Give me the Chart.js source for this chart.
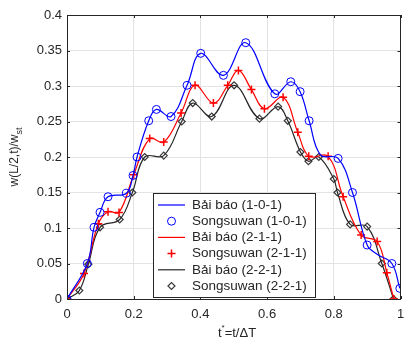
<!DOCTYPE html>
<html>
<head>
<meta charset="utf-8">
<script src="https://cdn.jsdelivr.net/npm/chart.js@4.4.1/dist/chart.umd.min.js"></script>
<style>
  html, body { margin: 0; padding: 0; background: #fff; }
  #wrap { width: 406px; height: 341px; }
</style>
</head>
<body>
<div id="wrap"><canvas id="chart" width="406" height="341"></canvas></div>
<script>
// Songsuwan (1-0-1) markers, blue circles
const blueX = [0, 0.061, 0.081, 0.099, 0.123, 0.178, 0.198, 0.21, 0.245, 0.268, 0.312, 0.36, 0.401, 0.469, 0.536, 0.623, 0.671, 0.699, 0.726, 0.813, 0.856, 0.9, 0.974, 0.998];
const blueY = [0, 0.05, 0.101, 0.122, 0.144, 0.149, 0.174, 0.2, 0.251, 0.267, 0.257, 0.301, 0.346, 0.315, 0.361, 0.289, 0.306, 0.292, 0.251, 0.198, 0.15, 0.076, 0.05, 0.015];
// extra points
const blueCurveX = [0.76, 0.93];
const blueCurveY = [0.203, 0.063];

// Songsuwan (2-1-1) markers, red plus
const redX = [0, 0.051, 0.094, 0.123, 0.156, 0.2, 0.248, 0.29, 0.342, 0.384, 0.439, 0.482, 0.514, 0.553, 0.592, 0.648, 0.692, 0.725, 0.783, 0.828, 0.882, 0.93, 0.959, 0.98];
const redY = [0, 0.036, 0.106, 0.123, 0.122, 0.175, 0.226, 0.221, 0.262, 0.301, 0.276, 0.301, 0.322, 0.295, 0.268, 0.284, 0.235, 0.201, 0.201, 0.144, 0.09, 0.081, 0.037, 0];
const redCurveX = [];
const redCurveY = [];

// Songsuwan (2-2-1) markers, black diamonds
const blackX = [0, 0.037, 0.064, 0.099, 0.158, 0.196, 0.233, 0.29, 0.344, 0.377, 0.434, 0.501, 0.577, 0.633, 0.662, 0.7, 0.724, 0.755, 0.8, 0.811, 0.849, 0.9, 0.944, 0.979];
const blackY = [0, 0.012, 0.049, 0.101, 0.112, 0.15, 0.2, 0.202, 0.25, 0.276, 0.257, 0.301, 0.254, 0.271, 0.251, 0.207, 0.194, 0.2, 0.169, 0.15, 0.105, 0.102, 0.05, 0];
const blackCurveX = [];
const blackCurveY = [];

const xTicks = [0, 0.2, 0.4, 0.6, 0.8, 1];
const yTicks = [0, 0.05, 0.1, 0.15, 0.2, 0.25, 0.3, 0.35, 0.4];

const FONT = '"Liberation Sans", Arial, sans-serif';
const TEXT = '#262626';

function pts(xs, ys) {
  return xs.map((x, i) => ({ x: x, y: ys[i] }));
}
function curve(xs, ys, ex, ey) {
  return pts(xs.concat(ex), ys.concat(ey)).sort((a, b) => a.x - b.x);
}

function lineSet(label, color, data) {
  return {
    label: label, data: data, borderColor: color, backgroundColor: color,
    borderWidth: 1.2, pointRadius: 0, tension: 0.4, showLine: true, kind: 'line'
  };
}
function markSet(label, color, style, radius, width, data) {
  return {
    label: label, data: data, borderColor: color, backgroundColor: 'rgba(0,0,0,0)',
    borderWidth: width, pointStyle: style, pointRadius: radius, showLine: false, kind: 'mark'
  };
}

// axes frame, inner ticks, axis titles and the boxed legend
const matlabLook = {
  id: 'matlabLook',
  afterDraw(chart) {
    const ctx = chart.ctx;
    const a = chart.chartArea;
    const xs = chart.scales.x, ys = chart.scales.y;
    ctx.save();
    ctx.strokeStyle = TEXT;
    ctx.lineWidth = 1;
    ctx.strokeRect(Math.round(a.left) + 0.5, Math.round(a.top) + 0.5,
      Math.round(a.right - a.left) - 1, Math.round(a.bottom - a.top));
    ctx.beginPath();
    xTicks.forEach(v => {
      const px = Math.round(xs.getPixelForValue(v)) + 0.5;
      ctx.moveTo(px, a.bottom); ctx.lineTo(px, a.bottom - 3);
      ctx.moveTo(px, a.top); ctx.lineTo(px, a.top + 3);
    });
    yTicks.forEach(v => {
      const py = Math.round(ys.getPixelForValue(v)) + 0.5;
      ctx.moveTo(a.left, py); ctx.lineTo(a.left + 3, py);
      ctx.moveTo(a.right, py); ctx.lineTo(a.right - 3, py);
    });
    ctx.stroke();

    // x title: t* = t/ΔT
    ctx.fillStyle = TEXT;
    ctx.textBaseline = 'middle';
    ctx.font = '13px ' + FONT;
    const w1 = ctx.measureText('t').width;
    const w3 = ctx.measureText('=t/ΔT').width;
    ctx.font = '8px ' + FONT;
    const w2 = ctx.measureText('*').width;
    let x0 = 237 - (w1 + w2 + w3) / 2;
    const ty = 333;
    ctx.font = '13px ' + FONT;
    ctx.textAlign = 'left';
    ctx.fillText('t', x0, ty);
    ctx.font = '8px ' + FONT;
    ctx.fillText('*', x0 + w1, ty - 5);
    ctx.font = '13px ' + FONT;
    ctx.fillText('=t/ΔT', x0 + w1 + w2, ty);

    // y title: w(L/2,t)/w_st
    ctx.save();
    ctx.translate(15, (a.top + a.bottom) / 2);
    ctx.rotate(-Math.PI / 2);
    ctx.font = '12px ' + FONT;
    const m1 = ctx.measureText('w(L/2,t)/w').width;
    ctx.font = '9px ' + FONT;
    const m2 = ctx.measureText('st').width;
    const s0 = -(m1 + m2) / 2;
    ctx.font = '12px ' + FONT;
    ctx.fillText('w(L/2,t)/w', s0, 0);
    ctx.font = '9px ' + FONT;
    ctx.fillText('st', s0 + m1, 5);
    ctx.restore();

    // legend
    const bx = 153, by = 193, bw = 162, bh = 104;
    ctx.fillStyle = '#fff';
    ctx.fillRect(bx, by, bw, bh);
    ctx.strokeStyle = TEXT;
    ctx.strokeRect(bx + 0.5, by + 0.5, bw, bh);
    ctx.font = '13.5px ' + FONT;
    ctx.textAlign = 'left';
    ctx.textBaseline = 'middle';
    chart.data.datasets.forEach((ds, i) => {
      const cy = 205 + i * 16.2;
      if (ds.kind === 'line') {
        ctx.strokeStyle = ds.borderColor;
        ctx.lineWidth = ds.borderWidth;
        ctx.beginPath();
        ctx.moveTo(158, cy); ctx.lineTo(185, cy);
        ctx.stroke();
      } else {
        ctx.strokeStyle = ds.borderColor;
        ctx.fillStyle = 'rgba(0,0,0,0)';
        ctx.lineWidth = ds.borderWidth;
        Chart.helpers.drawPoint(ctx, {
          pointStyle: ds.pointStyle, radius: ds.pointRadius, borderWidth: ds.borderWidth, rotation: 0
        }, 171.5, cy);
      }
      ctx.fillStyle = TEXT;
      ctx.fillText(ds.label, 192, cy);
    });
    ctx.restore();
  }
};

new Chart(document.getElementById('chart'), {
  type: 'line',
  data: {
    datasets: [
      lineSet('Bải báo (1-0-1)', '#0000ff', curve(blueX, blueY, blueCurveX, blueCurveY)),
      markSet('Songsuwan (1-0-1)', '#0000ff', 'circle', 4, 1, pts(blueX, blueY)),
      lineSet('Bải báo (2-1-1)', '#ff0000', curve(redX, redY, redCurveX, redCurveY)),
      markSet('Songsuwan (2-1-1)', '#ff0000', 'cross', 4, 1.5, pts(redX, redY)),
      lineSet('Bải báo (2-2-1)', '#262626', curve(blackX, blackY, blackCurveX, blackCurveY)),
      markSet('Songsuwan (2-2-1)', '#3a3a3a', 'rectRot', 3.5, 1.2, pts(blackX, blackY))
    ]
  },
  options: {
    responsive: false,
    animation: false,
    layout: { padding: { top: 15, right: 4, left: 0, bottom: 0 } },
    plugins: { legend: { display: false }, tooltip: { enabled: false } },
    scales: {
      x: {
        type: 'linear', min: 0, max: 1,
        afterBuildTicks: s => { s.ticks = xTicks.map(v => ({ value: v })); },
        afterFit: s => { s.height = 42; s.paddingLeft = 0; s.paddingRight = 0; },
        grid: { color: '#e3e3e3', drawTicks: false },
        border: { display: false },
        ticks: {
          padding: 8, color: TEXT, font: { family: FONT, size: 13 },
          maxRotation: 0, callback: v => String(v)
        }
      },
      y: {
        type: 'linear', min: 0, max: 0.4,
        afterBuildTicks: s => { s.ticks = yTicks.map(v => ({ value: v })); },
        afterFit: s => { s.width = 67; },
        grid: { color: '#e3e3e3', drawTicks: false },
        border: { display: false },
        ticks: {
          padding: 5, color: TEXT, font: { family: FONT, size: 13 },
          callback: v => String(+v.toFixed(2))
        }
      }
    }
  },
  plugins: [matlabLook]
});
</script>
</body>
</html>
